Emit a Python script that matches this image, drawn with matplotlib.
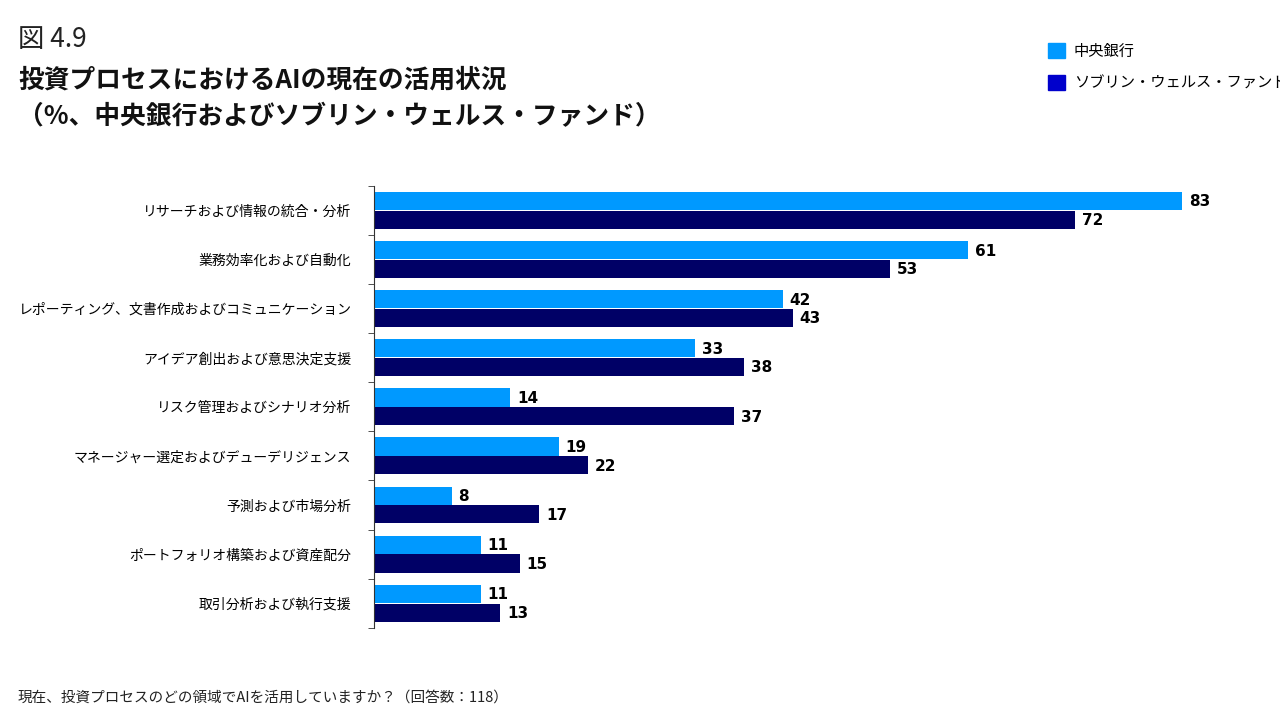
import matplotlib
matplotlib.use("Agg")
import matplotlib.pyplot as plt
from matplotlib.patches import Patch
import numpy as np

plt.rcParams['font.family'] = ['Noto Sans CJK JP', 'DejaVu Sans']

categories = ["リサーチおよび情報の統合・分析", "業務効率化および自動化", "レポーティング、文書作成およびコミュニケーション",
              "アイデア創出および意思決定支援", "リスク管理およびシナリオ分析", "マネージャー選定およびデューデリジェンス",
              "予測および市場分析", "ポートフォリオ構築および資産配分", "取引分析および執行支援"]
central_banks = [83, 61, 42, 33, 14, 19, 8, 11, 11]
swf = [72, 53, 43, 38, 37, 22, 17, 15, 13]

c1, c2, c2leg = "#0099FF", "#000066", "#0000CC"

fig = plt.figure(figsize=(12.8, 7.2), dpi=100)
ax = fig.add_axes([0.292, 0.128, 0.685, 0.614])
y = np.arange(len(categories))
h = 0.37
ax.barh(y - 0.19, central_banks, height=h, color=c1)
ax.barh(y + 0.19, swf, height=h, color=c2)
for yi, a, b in zip(y, central_banks, swf):
    ax.text(a + 0.7, yi - 0.17, str(a), va='center', ha='left', fontsize=11, fontweight='bold', family='DejaVu Sans')
    ax.text(b + 0.7, yi + 0.21, str(b), va='center', ha='left', fontsize=11, fontweight='bold', family='DejaVu Sans')
ax.set_ylim(len(categories) - 0.5, -0.5)
ax.set_xlim(0, 90)
ax.set_yticks(y)
ax.set_yticklabels(categories, fontsize=10)
ax.set_xticks([])
for s in ['top', 'right', 'bottom']:
    ax.spines[s].set_visible(False)
ax.spines['left'].set_color('#333333')
ax.set_yticks(np.arange(len(categories) + 1) - 0.5, minor=True)
ax.tick_params(axis='y', which='minor', length=4, color='#333333')
ax.tick_params(axis='y', which='major', length=0, pad=16)

fig.text(0.014, 0.935, "図 4.9", fontsize=19, color='#222222')
fig.text(0.014, 0.878, "投資プロセスにおけるAIの現在の活用状況", fontsize=18.5, fontweight='bold', color='#111111')
fig.text(0.014, 0.828, "（%、中央銀行およびソブリン・ウェルス・ファンド）", fontsize=18.5, fontweight='bold', color='#111111')
fig.text(0.014, 0.026, "現在、投資プロセスのどの領域でAIを活用していますか？（回答数：118）", fontsize=10.5, color='#222222')

handles = [Patch(color=c1, label="中央銀行"), Patch(color=c2leg, label="ソブリン・ウェルス・ファンド")]
fig.legend(handles=handles, loc='upper left', bbox_to_anchor=(0.808, 0.96), frameon=False,
           fontsize=11, handlelength=1.1, handleheight=1.1, handletextpad=0.6, labelspacing=1.0)

fig.savefig("out.png", dpi=100)
